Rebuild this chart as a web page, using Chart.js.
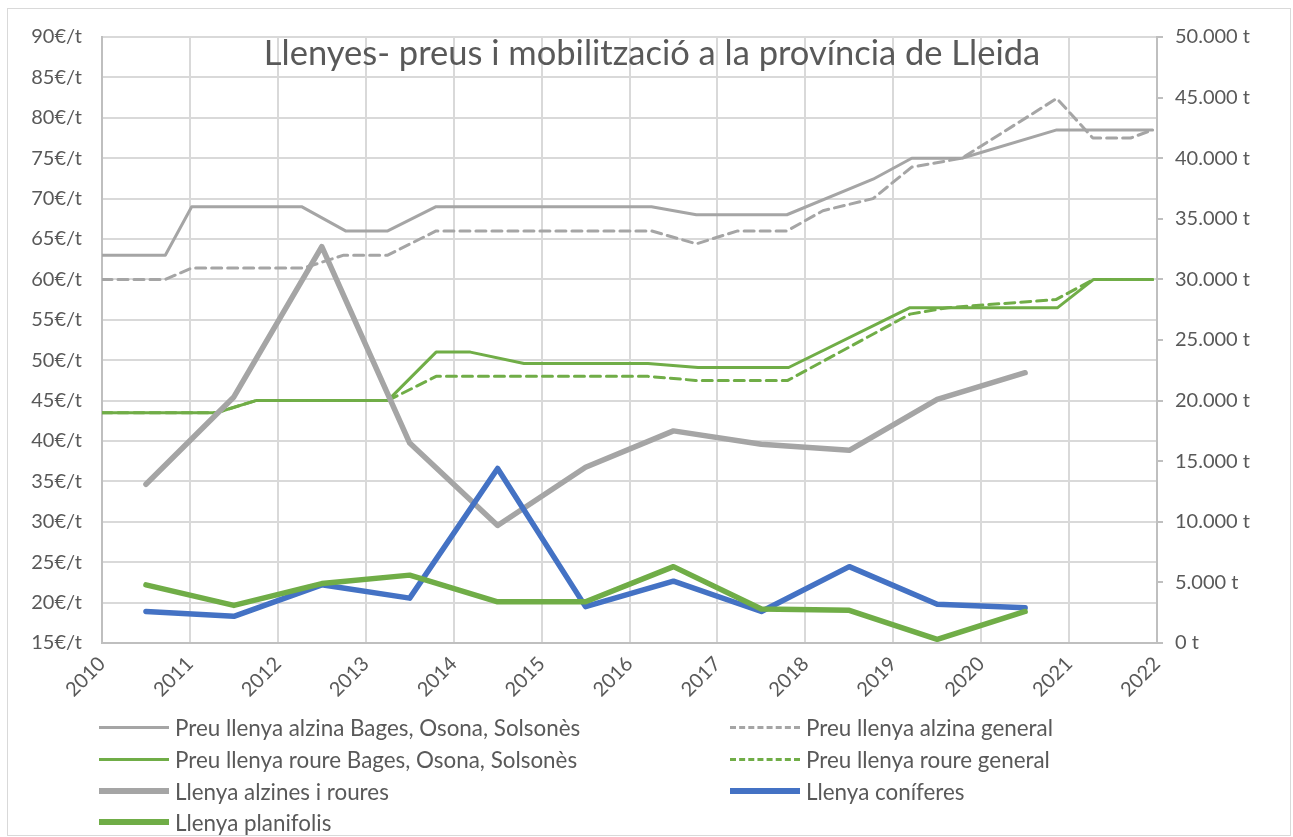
<!DOCTYPE html>
<html>
<head>
<meta charset="utf-8">
<script src="https://cdn.jsdelivr.net/npm/chart.js@4.4.1/dist/chart.umd.min.js"></script>
<style>
    body { margin: 0; background: #fff; }
    #wrap { position: relative; width: 1293px; height: 837px; }
    #frame { position: absolute; left: 7px; top: 8px; right: 2px; bottom: 1px; border: 1px solid #D9D9D9; pointer-events: none; }
    #legend { position: absolute; left: 0; top: 0; width: 1293px; height: 837px; pointer-events: none;
              font-family: Lato, sans-serif; font-size: 22.4px; color: #595959; }
    .item { position: absolute; display: flex; align-items: center; white-space: nowrap; }
    .swatch { width: 70px; margin-right: 6px; }
</style>
</head>
<body>
<div id="wrap">
    <canvas id="chart" width="1293" height="837"></canvas>
    <div id="legend"></div>
    <div id="frame"></div>
</div>
<script>
// Data
const chartTitle = 'Llenyes- preus i mobilització a la província de Lleida';

// price series (left axis, €/t) - irregular x positions
const alzinaBagesX = [2010, 2010.72, 2011.02, 2012.27, 2012.77, 2013.25, 2013.8, 2016.25, 2016.76, 2017.79, 2018.77, 2019.21, 2019.78, 2020.86, 2021.95];
const alzinaBagesY = [63, 63, 69, 69, 66, 66, 69, 69, 68, 68, 72.4, 75, 75, 78.5, 78.5];

const alzinaGeneralX = [2010, 2010.72, 2011.02, 2012.29, 2012.75, 2013.25, 2013.8, 2016.25, 2016.76, 2017.23, 2017.79, 2018.2, 2018.77, 2019.21, 2019.78, 2020.86, 2021.27, 2021.7, 2021.95];
const alzinaGeneralY = [60, 60, 61.4, 61.4, 63, 63, 66, 66, 64.4, 66, 66, 68.5, 70, 73.9, 75, 82.4, 77.5, 77.5, 78.5];

const roureBagesX = [2010, 2011.3, 2011.75, 2013.25, 2013.8, 2014.19, 2014.8, 2016.21, 2016.78, 2017.81, 2019.19, 2020.87, 2021.28, 2021.95];
const roureBagesY = [43.5, 43.5, 45, 45, 51, 51, 49.6, 49.6, 49.1, 49.1, 56.5, 56.5, 60, 60];

const roureGeneralX = [2010, 2011.3, 2011.75, 2013.25, 2013.8, 2016.21, 2016.75, 2017.8, 2019.19, 2019.62, 2020.85, 2021.28, 2021.95];
const roureGeneralY = [43.5, 43.5, 45, 45, 48, 48, 47.5, 47.5, 55.7, 56.5, 57.5, 60, 60];

// mobilised volume (right axis, t) - mid-year points
const volumeYears = [2010.5, 2011.5, 2012.5, 2013.5, 2014.5, 2015.5, 2016.5, 2017.5, 2018.5, 2019.5, 2020.5];
const alzinesRoures = [13100, 20300, 32700, 16500, 9700, 14500, 17500, 16400, 15900, 20100, 22300];
const coniferes = [2600, 2200, 4800, 3700, 14400, 3000, 5100, 2600, 6300, 3200, 2900];
const planifolis = [4800, 3100, 4900, 5600, 3400, 3400, 6300, 2800, 2700, 300, 2600];

const GRAY = '#A5A5A5';
const GREEN = '#70AD47';
const BLUE = '#4472C4';
const TEXT = '#595959';
const FONT = 'Lato';

function pts(xs, ys) {
    return xs.map((x, i) => ({ x: x, y: ys[i] }));
}

function thinLine(label, xs, ys, color, dashed, order) {
    return {
        label: label,
        data: pts(xs, ys),
        borderColor: color,
        borderWidth: 3,
        borderDash: dashed ? [10, 6] : [],
        pointRadius: 0,
        tension: 0,
        yAxisID: 'y',
        order: order
    };
}

function thickLine(label, ys, color, order) {
    return {
        label: label,
        data: pts(volumeYears, ys),
        borderColor: color,
        borderWidth: 5.5,
        borderDash: [],
        pointRadius: 0,
        tension: 0,
        yAxisID: 'y1',
        order: order
    };
}

const datasets = [
    thinLine('Preu llenya alzina Bages, Osona, Solsonès', alzinaBagesX, alzinaBagesY, GRAY, false, 6),
    thinLine('Preu llenya alzina general', alzinaGeneralX, alzinaGeneralY, GRAY, true, 5),
    thinLine('Preu llenya roure Bages, Osona, Solsonès', roureBagesX, roureBagesY, GREEN, false, 4),
    thinLine('Preu llenya roure general', roureGeneralX, roureGeneralY, GREEN, true, 3),
    thickLine('Llenya alzines i roures', alzinesRoures, GRAY, 2),
    thickLine('Llenya coníferes', coniferes, BLUE, 1),
    thickLine('Llenya planifolis', planifolis, GREEN, 0)
];
datasets.forEach(d => { d.borderJoinStyle = 'round'; d.borderCapStyle = 'round'; });

// title sits inside the plot area, over the gridlines
const titlePlugin = {
    id: 'innerTitle',
    afterDraw(chart) {
        const c = chart.ctx;
        c.save();
        c.font = '34.5px ' + FONT;
        c.fillStyle = TEXT;
        c.textAlign = 'center';
        c.textBaseline = 'middle';
        c.fillText(chartTitle, 652, 54);
        c.restore();
    }
};

const tickFont = { family: FONT, size: 20 };

const chart = new Chart(document.getElementById('chart').getContext('2d'), {
    type: 'line',
    data: { datasets: datasets },
    options: {
        responsive: false,
        animation: false,
        layout: { padding: { top: 37, left: 0, right: 0, bottom: 0 } },
        plugins: {
            legend: { display: false },
            title: { display: false },
            tooltip: { enabled: false }
        },
        scales: {
            x: {
                type: 'linear',
                min: 2010, max: 2022,
                afterFit: s => { s.height = 194; },
                grid: { color: '#D9D9D9', lineWidth: 2, drawTicks: false },
                border: { color: '#BFBFBF', width: 2 },
                ticks: {
                    stepSize: 1, autoSkip: false,
                    minRotation: 45, maxRotation: 45,
                    padding: 9,
                    color: TEXT, font: tickFont,
                    callback: v => String(v)
                }
            },
            y: {
                position: 'left',
                min: 15, max: 90,
                afterFit: s => { s.width = 102; },
                grid: { color: '#D9D9D9', lineWidth: 2, drawTicks: false },
                border: { color: '#BFBFBF', width: 2 },
                ticks: {
                    stepSize: 5, padding: 20,
                    color: TEXT, font: tickFont,
                    callback: v => v + '€/t'
                }
            },
            y1: {
                position: 'right',
                min: 0, max: 50000,
                afterFit: s => { s.width = 136; },
                grid: { drawOnChartArea: false, drawTicks: true, tickLength: 6, color: '#BFBFBF', lineWidth: 2 },
                border: { color: '#BFBFBF', width: 2 },
                ticks: {
                    stepSize: 5000, padding: 12,
                    color: TEXT, font: tickFont,
                    callback: v => String(v).replace(/\B(?=(\d{3})+(?!\d))/g, '.') + ' t'
                }
            }
        }
    },
    plugins: [titlePlugin]
});

// Legend in two columns, built from the datasets
const legendEl = document.getElementById('legend');
const colX = [99, 730];
const rowY = [727, 759, 791, 822];
chart.data.datasets.forEach((ds, i) => {
    const item = document.createElement('div');
    item.className = 'item';
    item.style.left = colX[i % 2] + 'px';
    item.style.top = (rowY[Math.floor(i / 2)] - 14) + 'px';
    item.style.height = '28px';
    const sw = document.createElement('div');
    sw.className = 'swatch';
    const w = ds.borderWidth >= 5 ? 6 : 3;
    const dashed = ds.borderDash && ds.borderDash.length;
    sw.style.borderTop = w + 'px ' + (dashed ? 'dashed ' : 'solid ') + ds.borderColor;
    const txt = document.createElement('span');
    txt.textContent = ds.label;
    item.appendChild(sw);
    item.appendChild(txt);
    legendEl.appendChild(item);
});
</script>
</body>
</html>
